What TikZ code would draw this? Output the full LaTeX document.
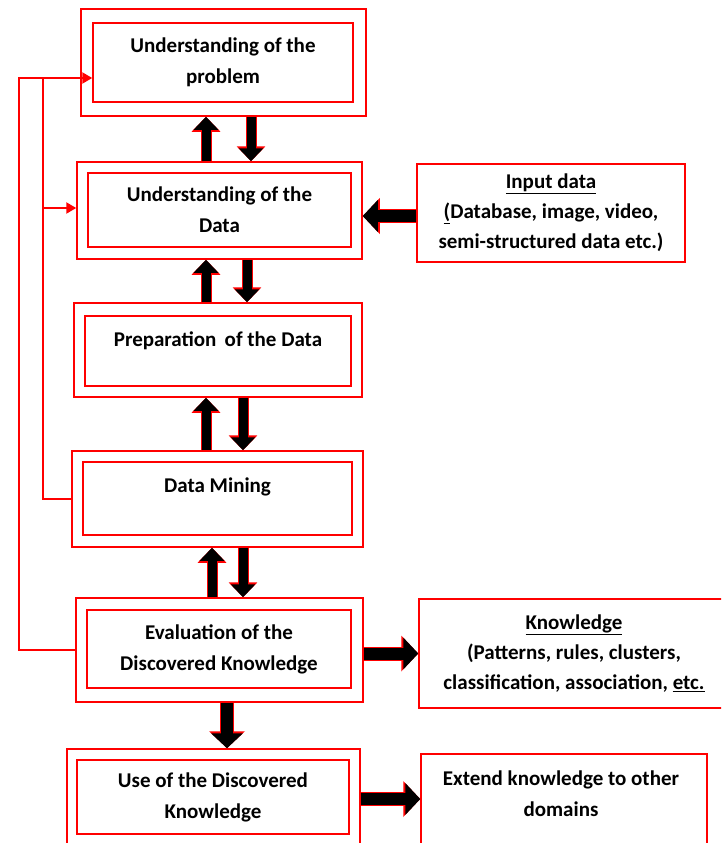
\documentclass[tikz,border=0pt]{standalone}
\usepackage{fontspec}
\setmainfont{Carlito}
\usetikzlibrary{arrows.meta}

\tikzset{
  outerbox/.style={draw=red, line width=1.5pt, inner sep=0pt},
  innerbox/.style={draw=red, line width=1.5pt, inner sep=0pt, align=center,
    font=\bfseries\fontsize{21}{31}\selectfont},
  sidebox/.style={draw=red, line width=1.5pt, inner sep=0pt, align=center,
    font=\bfseries\fontsize{21}{30}\selectfont},
  boxtext/.style={inner sep=0pt, align=center, font=\bfseries\fontsize{21}{31}\selectfont},
  fat/.style={line width=9pt, -{Triangle[width=24pt,length=13pt]},
    preaction={draw=red, line width=11pt, -{Triangle[width=28pt,length=15pt]}}},
  fatter/.style={line width=12pt, -{Triangle[width=31pt,length=15pt]},
    preaction={draw=red, line width=14pt, -{Triangle[width=35pt,length=17pt]}}},
  fbline/.style={draw=red, line width=2.2pt},
  feedback/.style={fbline, -{Triangle[width=11pt,length=10pt]}}
}

\begin{document}
\begin{tikzpicture}[x=1pt, y=-1pt]

    \useasboundingbox (0,0) rectangle (721,843);
    \clip (0,0) rectangle (721,843);

    % main column
    \node[outerbox, minimum width=285, minimum height=107] (probO) at (223.5,62.5) {};
    \node[innerbox, minimum width=260, minimum height=79] (prob) at (223,62.5) {Understanding of the\\problem};

    \node[outerbox, minimum width=285, minimum height=97] (dataO) at (219.5,210.5) {};
    \node[innerbox, minimum width=263, minimum height=74] (data) at (219.5,210) {Understanding of the\\Data};

    \node[outerbox, minimum width=288, minimum height=94] (prepO) at (218,350) {};
    \node[innerbox, minimum width=266, minimum height=70] (prep) at (218,351) {};
    \node[boxtext] (prepT) at (218,341) {Preparation\, of the Data};

    \node[outerbox, minimum width=291, minimum height=96] (mineO) at (217.5,499) {};
    \node[innerbox, minimum width=269, minimum height=73] (mine) at (217.5,498.5) {};
    \node[boxtext] (mineT) at (217.5,487) {Data Mining};

    \node[outerbox, minimum width=287, minimum height=104] (evalO) at (219.5,650) {};
    \node[innerbox, minimum width=264, minimum height=78] (eval) at (219,649) {Evaluation of the\\Discovered Knowledge};

    \node[outerbox, minimum width=293, minimum height=96] (useO) at (213.5,797) {};
    \node[innerbox, minimum width=272, minimum height=74] (use) at (213,797) {Use of the Discovered\\Knowledge};

    % side boxes
    \node[sidebox, minimum width=268, minimum height=98] (input) at (551,213)
        {\underline{Input data}\\\underline{(}Database, image, video,\\semi-structured data etc.)};
    \node[sidebox, minimum width=310, minimum height=109] (know) at (574,653.5)
        {\underline{Knowledge}\\(Patterns, rules, clusters,\\classification, association, \underline{etc.}};
    \node[sidebox, minimum width=286, minimum height=92] (ext) at (564,800) {};
    \node[boxtext] (extT) at (561,794) {Extend knowledge to other\\domains};

    % arrows between stages
    \draw[fat] ([xshift=-13.5pt]dataO.north) -- ([xshift=-17.5pt]probO.south);
    \draw[fat] ([xshift=27.5pt]probO.south) -- ([xshift=31.5pt]dataO.north);
    \draw[fat] ([xshift=-12pt]prepO.north) -- ([xshift=-13.5pt]dataO.south);
    \draw[fat] ([xshift=27.5pt]dataO.south) -- ([xshift=29pt]prepO.north);
    \draw[fat] ([xshift=-11.5pt]mineO.north) -- ([xshift=-12pt]prepO.south);
    \draw[fat] ([xshift=25pt]prepO.south) -- ([xshift=25.5pt]mineO.north);
    \draw[fat] ([xshift=-7.5pt]evalO.north) -- ([xshift=-5.5pt]mineO.south);
    \draw[fat] ([xshift=25.5pt]mineO.south) -- ([xshift=23.5pt]evalO.north);
    \draw[fatter] ([xshift=7.5pt]evalO.south) -- ([xshift=13.5pt]useO.north);

    \draw[fatter] ([yshift=-3pt]input.west) -- ([yshift=-3pt]input.west -| dataO.east);
    \draw[fatter] (evalO.east |- know.west) -- (know.west);
    \draw[fatter] ([yshift=-2pt]useO.east) -- ([yshift=-2pt]useO.east -| ext.west);

    % feedback lines
    \coordinate (fbL) at (19,78);
    \coordinate (fbR) at (43,78);
    \draw[feedback] (evalO.west) -| (fbL) -- (prob.west |- fbL);
    \draw[fbline] (mineO.west) -| (fbR);
    \draw[feedback] (fbR |- 0,208) -- (dataO.west |- 0,208);

\end{tikzpicture}
\end{document}
